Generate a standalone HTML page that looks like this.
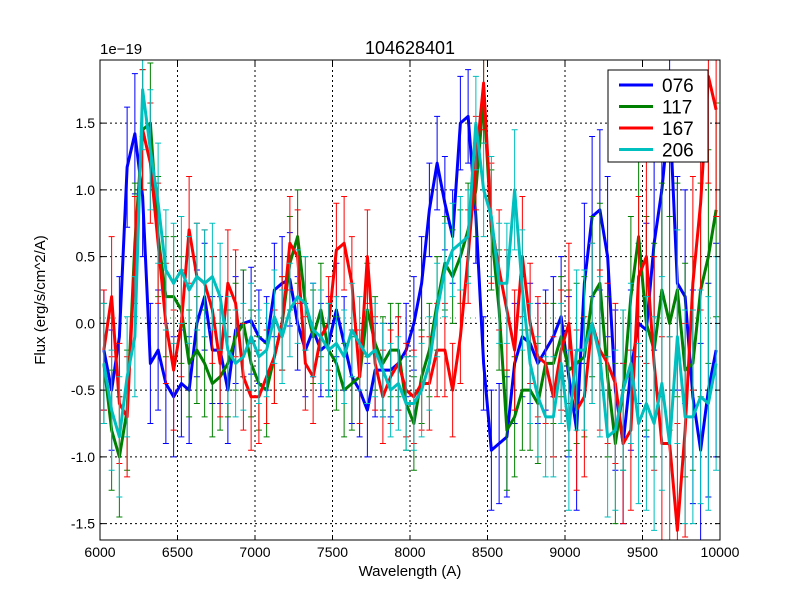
<!DOCTYPE html>
<html><head><meta charset="utf-8"><style>
html,body{margin:0;padding:0;background:#fff;width:800px;height:600px;overflow:hidden;}
svg{display:block;}
svg text{font-family:"Liberation Sans",sans-serif;}
</style></head><body>
<svg id="chart" width="800" height="600" xmlns="http://www.w3.org/2000/svg" style="position:absolute;left:0;top:0">
<rect width="800" height="600" fill="#fff"/>
<g id="grid"></g>
<g id="series"></g>
<g id="axes"></g>
</svg>
<script>
const wavelengths=[6025,6075,6125,6175,6225,6275,6325,6375,6425,6475,6525,6575,6625,6675,6725,6775,6825,6875,6925,6975,7025,7075,7125,7175,7225,7275,7325,7375,7425,7475,7525,7575,7625,7675,7725,7775,7825,7875,7925,7975,8025,8075,8125,8175,8225,8275,8325,8375,8425,8475,8525,8575,8625,8675,8725,8775,8825,8875,8925,8975,9025,9075,9125,9175,9225,9275,9325,9375,9425,9475,9525,9575,9625,9675,9725,9775,9825,9875,9925,9975];
const flux076=[-0.2,-0.5,-0.1,1.17,1.42,0.95,-0.3,-0.2,-0.45,-0.55,-0.45,-0.5,0.0,0.2,-0.2,-0.2,-0.5,-0.05,0.0,0.02,-0.1,-0.15,0.25,0.3,0.33,0.0,-0.2,-0.05,-0.2,-0.15,0.1,-0.15,-0.4,-0.5,-0.65,-0.35,-0.35,-0.35,-0.3,-0.2,0.0,0.3,0.85,1.2,0.9,0.65,1.5,1.55,0.8,-0.3,-0.95,-0.9,-0.85,-0.3,-0.1,-0.15,-0.3,-0.2,-0.1,0.05,-0.4,-0.8,0.3,0.8,0.85,0.5,-0.5,-0.9,-0.35,0.0,-0.05,0.6,1.0,1.6,0.3,0.2,-0.55,-0.95,-0.5,-0.2];
const flux117=[-0.3,-0.8,-1.0,-0.65,0.6,1.45,1.5,0.65,0.2,0.2,0.1,-0.3,-0.2,-0.3,-0.45,-0.4,-0.3,-0.1,0.0,-0.3,-0.45,-0.5,-0.25,0.0,0.45,0.65,0.15,-0.1,0.1,-0.2,-0.3,-0.5,-0.45,-0.4,0.1,-0.15,-0.3,-0.2,-0.2,-0.6,-0.75,-0.4,-0.2,0.15,0.45,0.35,0.5,0.7,1.0,1.7,0.7,0.1,-0.8,-0.7,-0.5,-0.5,-0.6,-0.3,-0.3,-0.1,-0.35,-0.3,-0.25,0.2,0.3,-0.4,-0.9,-0.5,0.2,0.65,0.0,-0.2,0.25,0.0,0.25,-0.35,-0.3,0.25,0.5,0.85];
const flux167=[-0.2,0.2,-0.6,-0.7,0.5,1.45,1.2,0.6,0.0,-0.35,0.0,0.7,0.35,0.3,0.1,-0.3,0.3,0.15,-0.4,-0.55,-0.55,-0.4,-0.25,0.0,0.6,0.5,-0.3,-0.4,-0.1,0.0,0.55,0.6,0.3,-0.4,0.5,-0.3,-0.55,-0.4,-0.3,-0.5,-0.55,-0.45,-0.45,-0.2,-0.2,-0.5,-0.1,0.5,1.2,1.8,0.75,0.4,0.1,-0.2,0.5,0.0,-0.25,-0.3,-0.55,-0.2,0.0,-0.65,-0.55,0.0,-0.2,-0.3,-0.45,-0.9,-0.8,0.35,0.5,-0.3,-0.9,-0.9,-1.55,-0.8,0.3,0.9,1.85,1.6];
const flux206=[-0.3,-0.65,-0.85,-0.4,-0.1,1.75,1.3,0.9,0.4,0.3,0.4,0.25,0.35,0.3,0.35,0.2,-0.2,-0.3,-0.25,-0.1,-0.25,-0.2,0.05,-0.1,0.1,0.2,0.15,-0.05,-0.1,-0.2,-0.15,-0.25,-0.05,-0.15,-0.25,-0.2,-0.35,-0.5,-0.45,-0.6,-0.6,-0.5,-0.3,0.1,0.4,0.55,0.6,0.65,1.5,1.0,0.8,0.3,0.3,1.0,0.25,-0.3,-0.55,-0.7,-0.7,-0.3,-0.8,-0.2,-0.2,0.0,-0.25,-0.85,-0.8,-0.5,-0.3,-0.75,-0.6,-0.75,-0.45,-0.9,-0.1,-0.7,-0.7,-0.55,-0.6,-0.3];
const errBandStarts=[6000,6500,7000,7500,8000,8500,9000,9500];
const errBandValues=[0.45,0.4,0.35,0.35,0.35,0.45,0.6,0.8];
const seriesNames=["076","117","167","206"];
const seriesColors=["#0000ff","#008000","#ff0000","#00bfbf"];
const xTicks=[6000,6500,7000,7500,8000,8500,9000,9500,10000];
const yTicks=[-1.5,-1.0,-0.5,0.0,0.5,1.0,1.5];
const allFlux=[flux076,flux117,flux167,flux206];

const L=100,R=720,T=60,B=540,XMIN=6000,XMAX=10000,YMIN=-1.6225,YMAX=1.9725;
const X=w=>L+(w-XMIN)/(XMAX-XMIN)*(R-L);
const Y=v=>B-(v-YMIN)/(YMAX-YMIN)*(B-T);
const cy=y=>Math.max(T,Math.min(B,y));
const NS="http://www.w3.org/2000/svg";
function mk(tag,attrs,parent){const e=document.createElementNS(NS,tag);for(const k in attrs)e.setAttribute(k,attrs[k]);parent.appendChild(e);return e;}
const grid=document.getElementById('grid'),ser=document.getElementById('series'),ax=document.getElementById('axes');
const clip=mk('clipPath',{id:'pc'},document.getElementById('chart'));
mk('rect',{x:L,y:T,width:R-L,height:B-T},clip);
ser.setAttribute('clip-path','url(#pc)');

xTicks.forEach(t=>{const l=mk('line',{x1:X(t),x2:X(t),y1:T,y2:B,stroke:'#000','stroke-dasharray':'2,3','stroke-width':1},grid);

});
yTicks.forEach(t=>{const l=mk('line',{x1:L,x2:R,y1:Y(t),y2:Y(t),stroke:'#000','stroke-dasharray':'2,3','stroke-width':1},grid);

});
const zl=mk('line',{x1:L,x2:R,y1:Y(0.04),y2:Y(0.04),stroke:'#7fbf7f','stroke-dasharray':'1,4','stroke-width':1.5},grid);



function errFor(w){let e=errBandValues[0];errBandStarts.forEach((s,i)=>{if(w>=s)e=errBandValues[i];});return e;}
allFlux.forEach((vals,si)=>{
  const g=mk('g',{},ser);
  
  
  const c=seriesColors[si];
  vals.forEach((v,i)=>{const w=wavelengths[i],e=errFor(w),x=X(w);
    const y1=Y(v-e),y2=Y(v+e),a=cy(y1),b2=cy(y2);
    let d=`M${x},${a}V${b2}`;
    if(y1===a)d+=`M${x-3},${a}h6`;
    if(y2===b2)d+=`M${x-3},${b2}h6`;
    const b=mk('path',{d:d,stroke:c,'stroke-width':1,fill:'none'},g);
    
    });
  const p=mk('polyline',{points:vals.map((v,i)=>X(wavelengths[i])+','+cy(Y(v))).join(' '),stroke:c,'stroke-width':3,fill:'none','stroke-linejoin':'round'},g);
  
  
});

const frame=mk('rect',{x:L,y:T,width:R-L,height:B-T,fill:'none',stroke:'#000','stroke-width':1},ax);


xTicks.forEach(t=>{const x=X(t);
  mk('path',{d:`M${x},${B}v-5M${x},${T}v5`,stroke:'#000'},ax);
  const tx=mk('text',{x:x,y:557,'font-size':14,'text-anchor':'middle'},ax);tx.textContent=t;
  
  });
yTicks.forEach(t=>{const y=Y(t);
  mk('path',{d:`M${L},${y}h5M${R},${y}h-5`,stroke:'#000'},ax);
  const tx=mk('text',{x:95,y:y+5,'font-size':14,'text-anchor':'end'},ax);tx.textContent=t.toFixed(1);
  
  });

const lg=mk('g',{},ax);


mk('rect',{x:608,y:70,width:100,height:92,fill:'#fff',stroke:'#000'},lg);
seriesNames.forEach((n,i)=>{const y=85+i*21.5;
  const e=mk('g',{},lg);
  
  
  mk('line',{x1:619,x2:653,y1:y,y2:y,stroke:seriesColors[i],'stroke-width':3},e);
  const t=mk('text',{x:662,y:y+7,'font-size':19},e);t.textContent=n;});
</script>
<svg style="position:absolute;left:0;top:0" width="800" height="600">
<text x="410" y="54" font-size="18" text-anchor="middle" font-family="Liberation Sans, sans-serif">104628401</text>
<text x="100" y="54" font-size="15" font-family="Liberation Sans, sans-serif">1e−19</text>
<text x="410" y="576" font-size="15" text-anchor="middle" font-family="Liberation Sans, sans-serif">Wavelength (A)</text>
<text transform="translate(45,300) rotate(-90)" font-size="15" text-anchor="middle" font-family="Liberation Sans, sans-serif">Flux (erg/s/cm^2/A)</text>
</svg>
</body></html>
